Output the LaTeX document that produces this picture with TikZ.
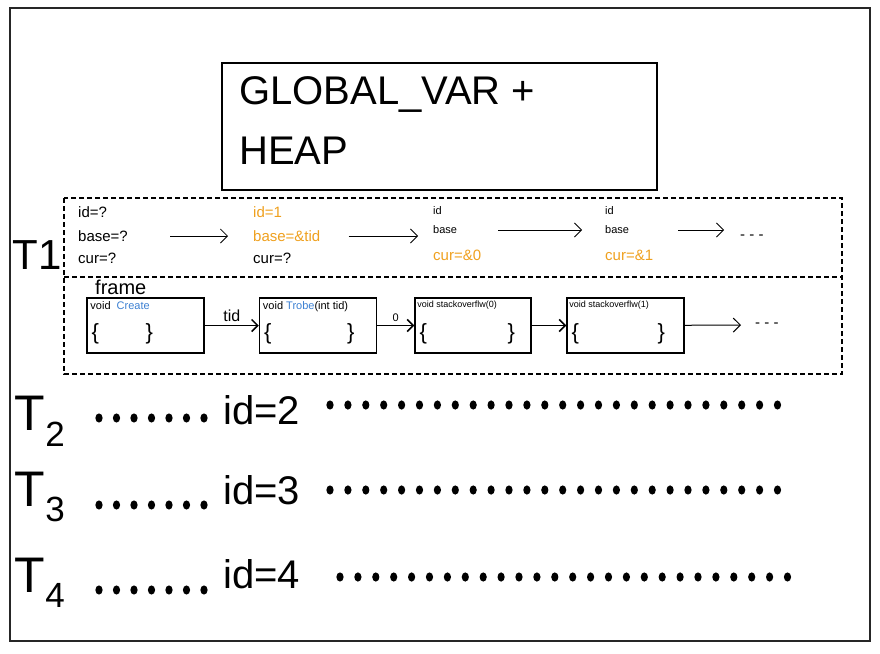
\documentclass[tikz,border=0pt]{standalone}
\usepackage{fontspec}
\setmainfont{Liberation Sans}
\usetikzlibrary{positioning,arrows.meta}
\definecolor{penorange}{HTML}{EFA01E}
\definecolor{penblue}{HTML}{3C80D2}

\begin{document}
\begin{tikzpicture}[x=1pt,y=-1pt,
		note/.style={font=\fontsize{15}{16}\selectfont,inner sep=0pt,anchor=west},
		small/.style={font=\fontsize{11}{12}\selectfont,inner sep=0pt,anchor=west},
		tname/.style={font=\fontsize{50}{52}\selectfont,inner sep=0pt},
		idtext/.style={font=\fontsize{40}{42}\selectfont,inner sep=0pt,anchor=west},
		framebox/.style={draw,line width=1.5pt,minimum width=117pt,minimum height=55pt},
		brace/.style={font=\fontsize{22}{24}\selectfont,inner sep=0pt},
		go/.style={-{Straight Barb[length=7pt,width=14pt]},line width=0.8pt},
		push/.style={-{Straight Barb[length=6pt,width=12pt]},line width=1.5pt},
		threadbox/.style={line width=1.4pt,dash pattern=on 5pt off 3pt}]
	\useasboundingbox (0,0) rectangle (880,653);
	\draw[line width=1.8pt,black!85] (10,8) rectangle (870,641);
	% shared memory
	\node[draw,line width=2pt,minimum width=435pt,minimum height=127pt] (heap) at (439.5,126.5) {};
	\node[font=\fontsize{40}{60}\selectfont,align=left,anchor=north west,inner sep=0pt] (heaptext)
		at ([xshift=18pt,yshift=-14pt]heap.north west) {GLOBAL\_VAR +\\HEAP};
	% thread 1
	\draw[threadbox] (64,198) rectangle (842,374);
	\draw[threadbox] (64,277) -- (842,277);
	\node[tname,font=\fontsize{42}{44}\selectfont] (t1) at (37,255) {T1};
	\node[note] (id0) at (78,212) {id=?};
	\node[note] (base0) at (78,236) {base=?};
	\node[note] (cur0) at (78,258) {cur=?};
	\node[note,penorange] (id1) at (253,212) {id=1};
	\node[note,penorange] (base1) at (253,236) {base=\&tid};
	\node[note] (cur1) at (253,258) {cur=?};
	\node[small] (id2) at (433,211) {id};
	\node[small] (base2) at (433,230) {base};
	\node[note,penorange] (cur2) at (433,255) {cur=\&0};
	\node[small] (id3) at (605,211) {id};
	\node[small] (base3) at (605,230) {base};
	\node[note,penorange] (cur3) at (605,255) {cur=\&1};
	\node[note] (more1) at (740,237) {- - -};
	\draw[go,shorten <=42pt,shorten >=25pt] (base0.east) -- (base1.west);
	\draw[go,shorten <=28pt,shorten >=15pt] (base1.east) -- (base1.east -| base2.west);
	\draw[go,shorten <=41pt,shorten >=23pt] (base2.east) -- (base3.west);
	\draw[go,shorten <=49pt,shorten >=16pt] (base3.east) -- (base3.east -| more1.west);
	% call frames
	\node[font=\fontsize{20}{22}\selectfont,inner sep=0pt,anchor=west] (frm) at (95,287) {frame};
	\node[framebox] (f1) at (145.5,325.5) {};
	\node[framebox] (f2) at (318,325.5) {};
	\node[framebox,minimum width=116pt] (f3) at (473,325.5) {};
	\node[framebox] (f4) at (625.5,325.5) {};
	\node[small,anchor=north west] (h1) at ([xshift=4pt,yshift=-4pt]f1.north west) {void \ {\color{penblue}Create}};
	\node[small,anchor=north west] (h2) at ([xshift=4pt,yshift=-4pt]f2.north west) {void {\color{penblue}Trobe}(int tid)};
	\node[small,anchor=north west,font=\fontsize{9}{10}\selectfont] (h3) at ([xshift=3pt,yshift=-4pt]f3.north west) {void stackoverflw(0)};
	\node[small,anchor=north west,font=\fontsize{9}{10}\selectfont] (h4) at ([xshift=3pt,yshift=-4pt]f4.north west) {void stackoverflw(1)};
	\foreach \f/\r in {f1/63,f2/92,f3/97,f4/95}{
		\node[brace] (\f l) at ([xshift=9pt,yshift=-8pt]\f.west) {\{};
		\node[brace] (\f r) at ([xshift=\r pt,yshift=-8pt]\f.west) {\}};
	}
	\node[note] (more2) at (755,325) {- - -};
	\draw[push] (f1) -- node[above,font=\fontsize{16}{18}\selectfont] {tid} (f2);
	\draw[push] (f2) -- node[above,font=\fontsize{11}{12}\selectfont] {0} (f3);
	\draw[push] (f3) -- (f4);
	\draw[go,line width=1pt,shorten >=14pt] (f4) -- (more2.west);
	% other threads
	\foreach \k/\ly/\sy/\iy/\dy/\dx in {2/421/418/410/405/330,3/497/505/490/490/330,4/583/590/574/577/340}{
		\node[tname] (t\k) at (40,\ly) {T\textsubscript{\k}};
		\foreach \j in {0,...,6}
			\fill (99+17.5*\j,\sy) ellipse (3.6pt and 4.6pt);
		\node[idtext] (id\k) at (223,\iy) {id=\k};
		\foreach \j in {0,...,25}
			\fill (\dx+17.9*\j,\dy) ellipse (3.6pt and 4.6pt);
	}
\end{tikzpicture}
\end{document}
